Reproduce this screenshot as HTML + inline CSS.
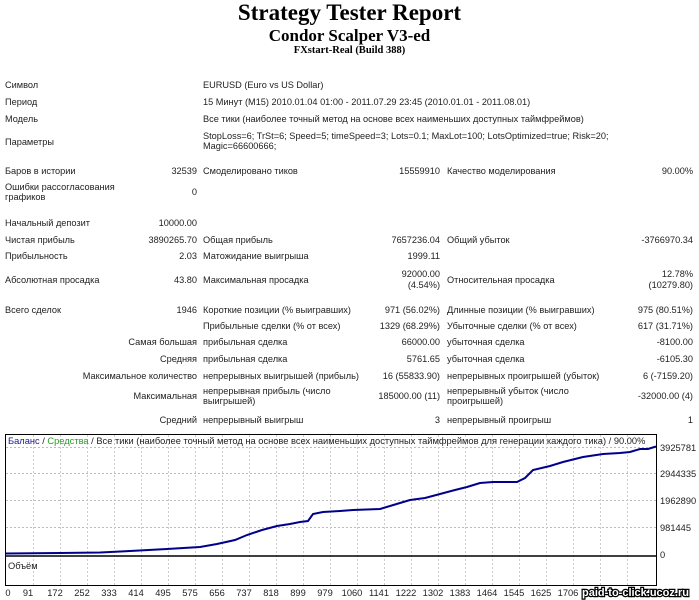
<!DOCTYPE html>
<html><head><meta charset="utf-8"><style>
body{margin:0;width:699px;height:600px;background:#fff;position:relative;overflow:hidden;font-family:"Liberation Sans","DejaVu Sans",sans-serif;font-size:9.2px;color:#222}
.t{position:absolute;white-space:nowrap;line-height:10px}
.r{text-align:right}
.h{position:absolute;left:0;width:699px;text-align:center;font-family:"Liberation Serif",serif;font-weight:bold;color:#000}
</style></head><body>
<div class="h" style="top:1px;font-size:23px;line-height:24px">Strategy Tester Report</div>
<div class="h" style="top:27px;font-size:17px;line-height:18px">Condor Scalper V3-ed</div>
<div class="h" style="top:45px;font-size:10.5px;line-height:12px">FXstart-Real (Build 388)</div>

<div class="t" style="left:5px;top:80px">Символ</div>
<div class="t" style="left:203px;top:80px">EURUSD (Euro vs US Dollar)</div>
<div class="t" style="left:5px;top:97px">Период</div>
<div class="t" style="left:203px;top:97px">15 Минут (M15) 2010.01.04 01:00 - 2011.07.29 23:45 (2010.01.01 - 2011.08.01)</div>
<div class="t" style="left:5px;top:114px">Модель</div>
<div class="t" style="left:203px;top:114px">Все тики (наиболее точный метод на основе всех наименьших доступных таймфреймов)</div>
<div class="t" style="left:5px;top:137px">Параметры</div>
<div class="t" style="left:203px;top:131px">StopLoss=6; TrSt=6; Speed=5; timeSpeed=3; Lots=0.1; MaxLot=100; LotsOptimized=true; Risk=20;</div>
<div class="t" style="left:203px;top:141px">Magic=66600666;</div>

<div class="t" style="left:5px;top:166px">Баров в истории</div>
<div class="t r" style="right:502px;top:166px">32539</div>
<div class="t" style="left:203px;top:166px">Смоделировано тиков</div>
<div class="t r" style="right:259px;top:166px">15559910</div>
<div class="t" style="left:447px;top:166px">Качество моделирования</div>
<div class="t r" style="right:6px;top:166px">90.00%</div>
<div class="t" style="left:5px;top:182px">Ошибки рассогласования</div>
<div class="t" style="left:5px;top:192px">графиков</div>
<div class="t r" style="right:502px;top:187px">0</div>
<div class="t" style="left:5px;top:218px">Начальный депозит</div>
<div class="t r" style="right:502px;top:218px">10000.00</div>

<div class="t" style="left:5px;top:235px">Чистая прибыль</div>
<div class="t r" style="right:502px;top:235px">3890265.70</div>
<div class="t" style="left:203px;top:235px">Общая прибыль</div>
<div class="t r" style="right:259px;top:235px">7657236.04</div>
<div class="t" style="left:447px;top:235px">Общий убыток</div>
<div class="t r" style="right:6px;top:235px">-3766970.34</div>

<div class="t" style="left:5px;top:251px">Прибыльность</div>
<div class="t r" style="right:502px;top:251px">2.03</div>
<div class="t" style="left:203px;top:251px">Матожидание выигрыша</div>
<div class="t r" style="right:259px;top:251px">1999.11</div>

<div class="t" style="left:5px;top:275px">Абсолютная просадка</div>
<div class="t r" style="right:502px;top:275px">43.80</div>
<div class="t" style="left:203px;top:275px">Максимальная просадка</div>
<div class="t r" style="right:259px;top:269px">92000.00</div>
<div class="t r" style="right:259px;top:280px">(4.54%)</div>
<div class="t" style="left:447px;top:275px">Относительная просадка</div>
<div class="t r" style="right:6px;top:269px">12.78%</div>
<div class="t r" style="right:6px;top:280px">(10279.80)</div>

<div class="t" style="left:5px;top:305px">Всего сделок</div>
<div class="t r" style="right:502px;top:305px">1946</div>
<div class="t" style="left:203px;top:305px">Короткие позиции (% выигравших)</div>
<div class="t r" style="right:259px;top:305px">971 (56.02%)</div>
<div class="t" style="left:447px;top:305px">Длинные позиции (% выигравших)</div>
<div class="t r" style="right:6px;top:305px">975 (80.51%)</div>

<div class="t" style="left:203px;top:321px">Прибыльные сделки (% от всех)</div>
<div class="t r" style="right:259px;top:321px">1329 (68.29%)</div>
<div class="t" style="left:447px;top:321px">Убыточные сделки (% от всех)</div>
<div class="t r" style="right:6px;top:321px">617 (31.71%)</div>

<div class="t r" style="right:502px;top:337px">Самая большая</div>
<div class="t" style="left:203px;top:337px">прибыльная сделка</div>
<div class="t r" style="right:259px;top:337px">66000.00</div>
<div class="t" style="left:447px;top:337px">убыточная сделка</div>
<div class="t r" style="right:6px;top:337px">-8100.00</div>

<div class="t r" style="right:502px;top:354px">Средняя</div>
<div class="t" style="left:203px;top:354px">прибыльная сделка</div>
<div class="t r" style="right:259px;top:354px">5761.65</div>
<div class="t" style="left:447px;top:354px">убыточная сделка</div>
<div class="t r" style="right:6px;top:354px">-6105.30</div>

<div class="t r" style="right:502px;top:371px">Максимальное количество</div>
<div class="t" style="left:203px;top:371px">непрерывных выигрышей (прибыль)</div>
<div class="t r" style="right:259px;top:371px">16 (55833.90)</div>
<div class="t" style="left:447px;top:371px">непрерывных проигрышей (убыток)</div>
<div class="t r" style="right:6px;top:371px">6 (-7159.20)</div>

<div class="t r" style="right:502px;top:391px">Максимальная</div>
<div class="t" style="left:203px;top:386px">непрерывная прибыль (число</div>
<div class="t" style="left:203px;top:396px">выигрышей)</div>
<div class="t r" style="right:259px;top:391px">185000.00 (11)</div>
<div class="t" style="left:447px;top:386px">непрерывный убыток (число</div>
<div class="t" style="left:447px;top:396px">проигрышей)</div>
<div class="t r" style="right:6px;top:391px">-32000.00 (4)</div>

<div class="t r" style="right:502px;top:415px">Средний</div>
<div class="t" style="left:203px;top:415px">непрерывный выигрыш</div>
<div class="t r" style="right:259px;top:415px">3</div>
<div class="t" style="left:447px;top:415px">непрерывный проигрыш</div>
<div class="t r" style="right:6px;top:415px">1</div>

<svg style="position:absolute;left:0;top:0" width="699" height="600">
<g stroke="#bbb" stroke-width="1" stroke-dasharray="2,2">
<line x1="6" y1="447.5" x2="656" y2="447.5"/><line x1="6" y1="473.5" x2="656" y2="473.5"/><line x1="6" y1="500.5" x2="656" y2="500.5"/><line x1="6" y1="527.5" x2="656" y2="527.5"/>
</g>
<g stroke="#ccc" stroke-dasharray="2,2">
<path d="M33.5 435V585M60.5 435V585M87.5 435V585M114.5 435V585M141.5 435V585M168.5 435V585M195.5 435V585M222.5 435V585M249.5 435V585M276.5 435V585M303.5 435V585M330.5 435V585M357.5 435V585M384.5 435V585M411.5 435V585M438.5 435V585M465.5 435V585M492.5 435V585M519.5 435V585M546.5 435V585M573.5 435V585M600.5 435V585M627.5 435V585"/>
</g>
<rect x="5.5" y="434.5" width="651" height="151" fill="none" stroke="#000"/>
<line x1="5" y1="556" x2="657" y2="556" stroke="#000" stroke-width="1.5"/>
<polyline fill="none" stroke="#00008b" stroke-width="2" points="6,553.5 60,553 100,552.5 130,551 167,549 200,547 217,544 235,540 247,535 262,530 277,526 290,524 300,522 308,521 313,514 323,512 340,511 353,510 380,509 400,503 410,500 425,498 440,494 455,490 467,487 480,483 493,482 505,482 517,482 525,478 533,470 550,466 563,462 575,459 583,457 603,454 620,453 630,452 640,449 648,449 656,446.5"/>
<g font-family="Liberation Sans,sans-serif" font-size="9.3" fill="#222">
<text x="8" y="444"><tspan fill="#1a1a8c">Баланс</tspan> / <tspan fill="#2a9a2a">Средства</tspan> / Все тики (наиболее точный метод на основе всех наименьших доступных таймфреймов для генерации каждого тика) / 90.00%</text>
<text x="8" y="569">Объём</text>
<text x="660" y="451">3925781</text><text x="660" y="477">2944335</text><text x="660" y="504">1962890</text><text x="660" y="531">981445</text><text x="660" y="558">0</text>
<g text-anchor="middle">
<text x="8" y="596">0</text><text x="28" y="596">91</text><text x="55" y="596">172</text><text x="82" y="596">252</text><text x="109" y="596">333</text><text x="136" y="596">414</text><text x="163" y="596">495</text><text x="190" y="596">575</text><text x="217" y="596">656</text><text x="244" y="596">737</text><text x="271" y="596">818</text><text x="298" y="596">899</text><text x="325" y="596">979</text><text x="352" y="596">1060</text><text x="379" y="596">1141</text><text x="406" y="596">1222</text><text x="433" y="596">1302</text><text x="460" y="596">1383</text><text x="487" y="596">1464</text><text x="514" y="596">1545</text><text x="541" y="596">1625</text><text x="568" y="596">1706</text>
</g>
<text x="582" y="596" font-weight="bold" font-size="11" fill="#fff" stroke="#000" stroke-width="2.5" paint-order="stroke">paid-to-click.ucoz.ru</text>
</g>
</svg>
</body></html>
